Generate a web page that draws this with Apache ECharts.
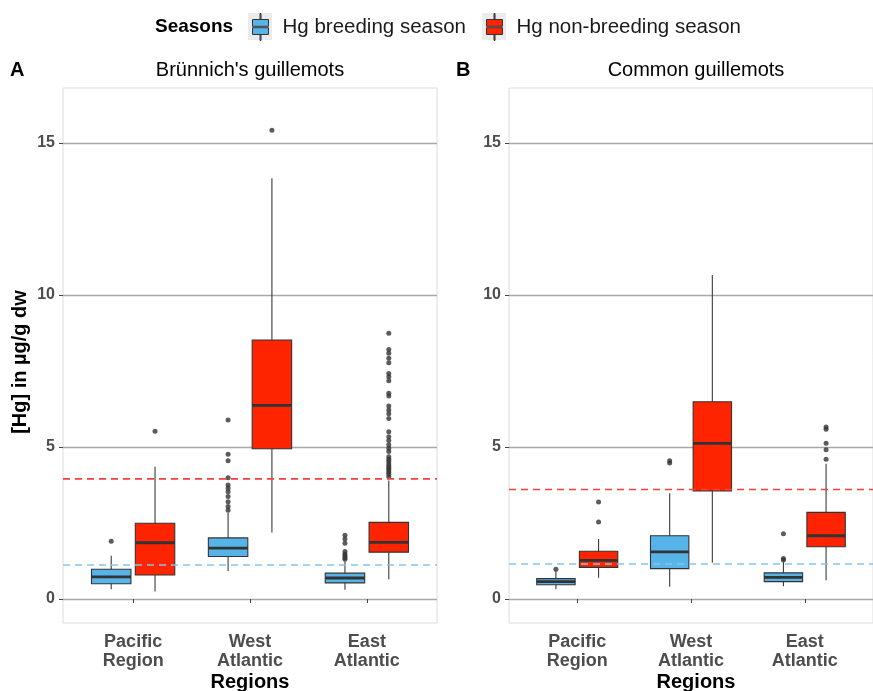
<!DOCTYPE html>
<html>
<head>
<meta charset="utf-8">
<script src="https://cdn.jsdelivr.net/npm/echarts@6/dist/echarts.min.js"></script>
<style>html,body{margin:0;padding:0;background:#fff;}#chart{width:873px;height:691px;}</style>
</head>
<body>
<div id="chart"></div>
<script>
// ---------- data ----------
const regions = ['Pacific\nRegion', 'West\nAtlantic', 'East\nAtlantic'];
const seasonNames = ['Hg breeding season', 'Hg non-breeding season'];
const yTicks = [0, 5, 10, 15];
// box stats per region: [lower whisker, Q1, median, Q3, upper whisker]
const brunnichBreeding = [[0.32, 0.50, 0.73, 0.98, 1.42], [0.92, 1.40, 1.67, 2.01, 2.84], [0.30, 0.53, 0.69, 0.85, 1.23]];
const brunnichNonBreeding = [[0.25, 0.79, 1.85, 2.49, 4.35], [2.19, 4.94, 6.37, 8.52, 13.84], [0.65, 1.54, 1.86, 2.52, 3.90]];
const commonBreeding = [[0.32, 0.47, 0.57, 0.67, 0.93], [0.40, 1.00, 1.55, 2.08, 3.48], [0.42, 0.57, 0.71, 0.86, 1.22]];
const commonNonBreeding = [[0.70, 1.04, 1.27, 1.57, 1.97], [1.19, 3.55, 5.12, 6.49, 10.66], [0.62, 1.72, 2.08, 2.85, 4.45]];
// outliers per region
const brunnichBreedingOut = [[1.90], [2.92, 3.04, 3.20, 3.37, 3.53, 3.64, 3.75, 3.99, 4.55, 4.76, 5.89], [1.31, 1.36, 1.42, 1.48, 1.56, 1.83, 1.97, 2.10]];
const brunnichNonBreedingOut = [[5.52], [15.42], [4.02, 4.10, 4.17, 4.24, 4.30, 4.37, 4.44, 4.52, 4.60, 4.68, 4.85, 4.96, 5.07, 5.21, 5.34, 5.50, 5.94, 6.09, 6.22, 6.35, 6.68, 6.77, 7.18, 7.31, 7.42, 7.77, 7.92, 8.08, 8.21, 8.74]];
const commonBreedingOut = [[0.98], [4.47, 4.55], [1.28, 1.33, 2.15]];
const commonNonBreedingOut = [[2.53, 3.19], [], [4.60, 4.91, 5.12, 5.58, 5.66]];
// dashed reference lines: [breeding, non-breeding]
const brunnichRef = [1.12, 3.95];
const commonRef = [1.15, 3.60];

// ---------- styling ----------
const FONT = '"Liberation Sans", Arial, sans-serif';
const BLUE = '#56B4E9', RED = '#ff2400';
const REF_BLUE = '#86c4ea', REF_RED = '#f2403a';
const DODGE = 0.1875, BOX_W = 0.3375;
const X_MIN = 0.4, X_MAX = 3.6, Y_MIN = -0.79, Y_MAX = 16.81;

function boxRender(params, api) {
  const x = api.value(0);
  const lo = api.coord([x, api.value(1)]);
  const q1 = api.coord([x, api.value(2)]);
  const md = api.coord([x, api.value(3)]);
  const q3 = api.coord([x, api.value(4)]);
  const hi = api.coord([x, api.value(5)]);
  const w = api.size([BOX_W, 0])[0];
  const fill = api.visual('color');
  return {
    type: 'group',
    children: [
      { type: 'line', shape: { x1: lo[0], y1: lo[1], x2: hi[0], y2: hi[1] }, style: { stroke: '#3a3a3a', lineWidth: 1.1 } },
      { type: 'rect', shape: { x: q3[0] - w / 2, y: q3[1], width: w, height: q1[1] - q3[1] }, style: { fill: fill, stroke: '#333', lineWidth: 1.1 } },
      { type: 'line', shape: { x1: md[0] - w / 2, y1: md[1], x2: md[0] + w / 2, y2: md[1] }, style: { stroke: '#333', lineWidth: 2.8 } }
    ]
  };
}

function boxSeries(name, stats, offset, color, idx) {
  return {
    name: name, type: 'custom', xAxisIndex: idx, yAxisIndex: idx, z: 2,
    itemStyle: { color: color },
    renderItem: boxRender,
    encode: { x: 0, y: [1, 2, 3, 4, 5] },
    data: stats.map((d, i) => [i + 1 + offset].concat(d)),
    silent: true
  };
}
function outSeries(name, outs, offset, idx) {
  const pts = [];
  outs.forEach((arr, i) => arr.forEach(v => pts.push([i + 1 + offset, v])));
  return {
    name: name, type: 'scatter', xAxisIndex: idx, yAxisIndex: idx, z: 3,
    symbolSize: 5, itemStyle: { color: '#333' }, data: pts, silent: true
  };
}
function refSeries(name, v, color, idx) {
  return {
    name: name, type: 'line', xAxisIndex: idx, yAxisIndex: idx, z: 5, symbol: 'none',
    lineStyle: { color: color, width: 1.6, type: [7, 5] },
    data: [[X_MIN, v], [X_MAX, v]], silent: true
  };
}

const grids = [
  { left: 63, top: 88, width: 374, height: 535 },
  { left: 509, top: 88, width: 374, height: 535 }
].map(g => Object.assign(g, { show: true, backgroundColor: '#fff', borderColor: '#dcdcdc', borderWidth: 1, containLabel: false }));

const xAxes = [0, 1].map(i => ({
  type: 'value', gridIndex: i, min: X_MIN, max: X_MAX,
  axisLine: { show: false },
  splitLine: { show: false },
  axisTick: { show: true, length: 4, lineStyle: { color: '#444', width: 1 }, customValues: [1, 2, 3] },
  axisLabel: {
    customValues: [1, 2, 3], margin: 10,
    formatter: v => regions[Math.round(v) - 1],
    fontFamily: FONT, fontSize: 18, fontWeight: 'bold', color: '#4d4d4d', lineHeight: 19
  }
}));
const yAxes = [0, 1].map(i => ({
  type: 'value', gridIndex: i, min: Y_MIN, max: Y_MAX,
  axisLine: { show: false },
  axisTick: { show: true, length: 4, lineStyle: { color: '#444', width: 1 }, customValues: yTicks },
  axisLabel: { customValues: yTicks, margin: 8, fontFamily: FONT, fontSize: 16, fontWeight: 'bold', color: '#4d4d4d' },
  splitLine: { show: true, lineStyle: { color: '#a9a9a9', width: 1.4 } }
}));

const legendPath = 'path://M7.5,0H8.5V6H7.5Z M0,6H16V12.8H0Z M0,14.2H16V21H0Z M7.5,21H8.5V27H7.5Z';
const legendBase = {
  top: 13, padding: 0, orient: 'horizontal', itemWidth: 16, itemHeight: 27, selectedMode: false,
  itemStyle: { borderColor: '#333', borderWidth: 1 },
  textStyle: { fontFamily: FONT, fontSize: 20.5, color: '#1a1a1a', padding: [0, 0, 0, 9] }
};

const txt = (x, y, text, size, weight, align, extra) => Object.assign({
  type: 'text', x: x, y: y, silent: true,
  style: { text: text, fontFamily: FONT, fontSize: size, fontWeight: weight, fill: '#000', align: align, verticalAlign: 'middle' }
}, extra || {});

const option = {
  backgroundColor: '#fff',
  animation: false,
  grid: grids,
  xAxis: xAxes,
  yAxis: yAxes,
  legend: [
    Object.assign({}, legendBase, { left: 252, data: [{ name: seasonNames[0], icon: legendPath }] }),
    Object.assign({}, legendBase, { left: 486, data: [{ name: seasonNames[1], icon: legendPath }] })
  ],
  graphic: [
    { type: 'rect', left: 248, top: 13, z: -1, shape: { width: 24, height: 27 }, style: { fill: '#ebebeb' }, silent: true },
    { type: 'rect', left: 482, top: 13, z: -1, shape: { width: 24, height: 27 }, style: { fill: '#ebebeb' }, silent: true },
    txt(155, 27, 'Seasons', 19, 'bold', 'left'),
    txt(10, 70, 'A', 20, 'bold', 'left'),
    txt(456, 70, 'B', 20, 'bold', 'left'),
    txt(250, 70, "Brünnich's guillemots", 20, 'normal', 'center'),
    txt(696, 70, 'Common guillemots', 20, 'normal', 'center'),
    txt(250, 682, 'Regions', 20, 'bold', 'center'),
    txt(696, 682, 'Regions', 20, 'bold', 'center'),
    txt(20, 362, '[Hg] in µg/g dw', 20, 'bold', 'center', { rotation: Math.PI / 2 })
  ],
  series: [
    boxSeries(seasonNames[0], brunnichBreeding, -DODGE, BLUE, 0),
    boxSeries(seasonNames[1], brunnichNonBreeding, DODGE, RED, 0),
    outSeries('A breeding outliers', brunnichBreedingOut, -DODGE, 0),
    outSeries('A non-breeding outliers', brunnichNonBreedingOut, DODGE, 0),
    refSeries('A breeding ref', brunnichRef[0], REF_BLUE, 0),
    refSeries('A non-breeding ref', brunnichRef[1], REF_RED, 0),
    boxSeries(seasonNames[0], commonBreeding, -DODGE, BLUE, 1),
    boxSeries(seasonNames[1], commonNonBreeding, DODGE, RED, 1),
    outSeries('B breeding outliers', commonBreedingOut, -DODGE, 1),
    outSeries('B non-breeding outliers', commonNonBreedingOut, DODGE, 1),
    refSeries('B breeding ref', commonRef[0], REF_BLUE, 1),
    refSeries('B non-breeding ref', commonRef[1], REF_RED, 1)
  ]
};

const chart = echarts.init(document.getElementById('chart'), null, { renderer: 'canvas' });
chart.setOption(option);
</script>
</body>
</html>
